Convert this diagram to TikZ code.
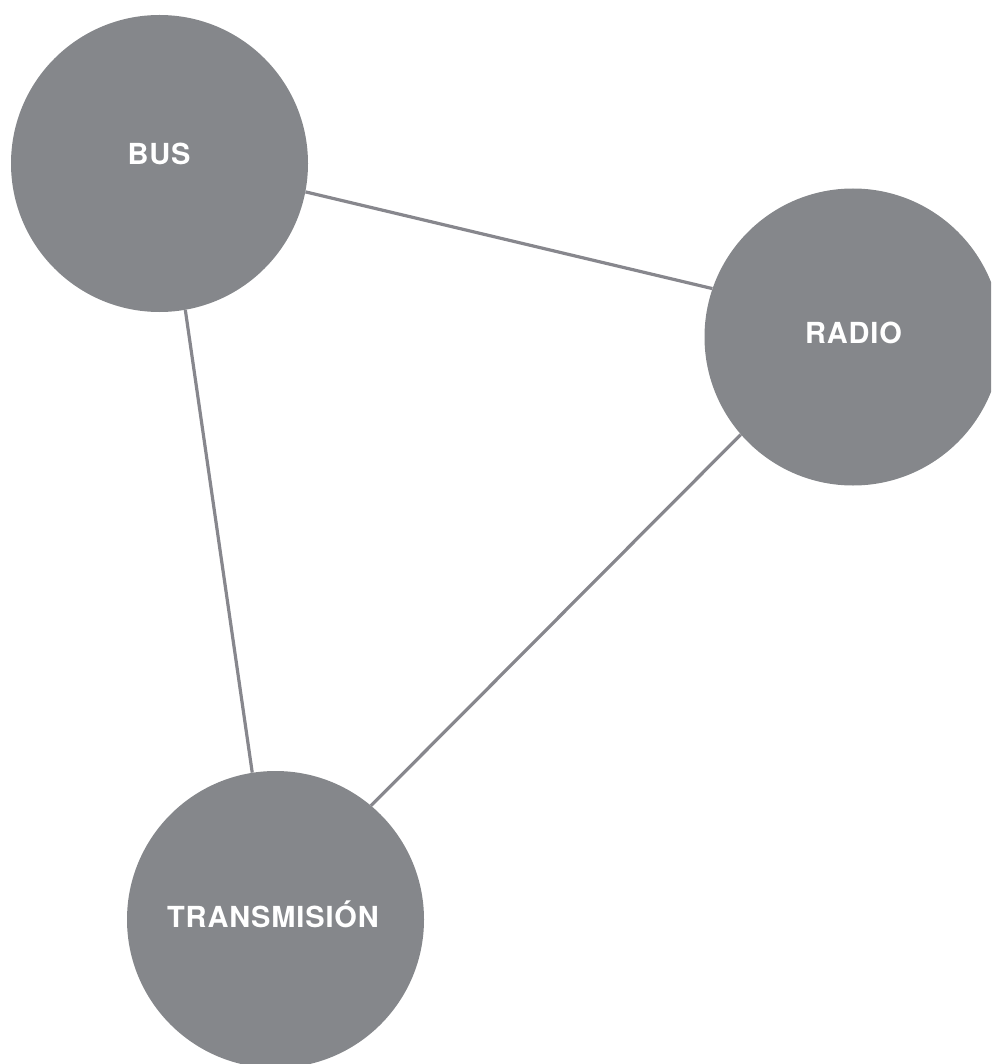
\documentclass[tikz,border=0pt]{standalone}
\usepackage{fontspec}
\setmainfont{TeX Gyre Heros}[LetterSpace=3]
\begin{document}
\begin{tikzpicture}[x=1pt,y=-1pt,
  circ/.style={circle,fill=nodegray,draw=none,minimum size=297pt,inner sep=0pt},
  lbl/.style={text=white,font=\fontsize{29pt}{33pt}\selectfont\bfseries,text height=20.8pt,text depth=0pt,inner sep=0pt,anchor=center},
  conn/.style={draw=linegray,line width=3.2pt}]
\definecolor{nodegray}{HTML}{85878B}
\definecolor{linegray}{HTML}{87878D}
\useasboundingbox (0,0) rectangle (991,1064);
\clip (0,0) rectangle (991,1064);
\node[circ] (bus) at (159.5,163.5) {};
\node[circ] (radio) at (853,337) {};
\node[circ] (trans) at (275.5,919.5) {};
\draw[conn] (bus.-11) -- (radio.161);
\draw[conn] (bus.-80) -- (trans.99);
\draw[conn] (radio.221) -- (trans.50);
\node[lbl] (buslbl) at (159,154.5) {BUS};
\node[lbl] (radiolbl) at (853.5,333) {RADIO};
\node[lbl] (translbl) at (273,917.5) {TRANSMISIÓN};
\end{tikzpicture}
\end{document}
